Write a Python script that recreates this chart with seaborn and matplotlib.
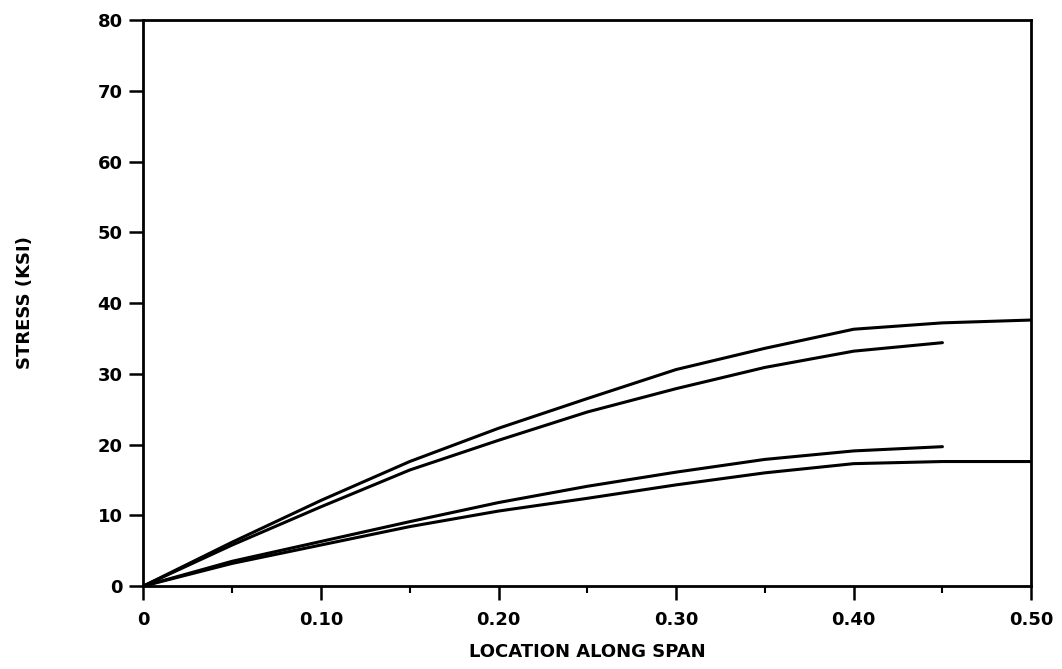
import matplotlib
matplotlib.use("Agg")
import matplotlib.pyplot as plt
import seaborn as sns
import pandas as pd
from matplotlib.ticker import MultipleLocator, FixedLocator

# Data
x_long = [0.0, 0.05, 0.10, 0.15, 0.20, 0.25, 0.30, 0.35, 0.40, 0.45, 0.50]
x_short = [0.0, 0.05, 0.10, 0.15, 0.20, 0.25, 0.30, 0.35, 0.40, 0.45]
stress_a = [0.0, 6.2, 12.1, 17.6, 22.3, 26.5, 30.6, 33.6, 36.3, 37.2, 37.6]
stress_b = [0.0, 5.8, 11.2, 16.4, 20.6, 24.6, 27.9, 30.9, 33.2, 34.4]
stress_c = [0.0, 3.5, 6.3, 9.1, 11.8, 14.1, 16.1, 17.9, 19.1, 19.7]
stress_d = [0.0, 3.2, 5.8, 8.4, 10.6, 12.4, 14.3, 16.0, 17.3, 17.6, 17.6]

x_ticks = [0, 0.10, 0.20, 0.30, 0.40, 0.50]
x_tick_labels = ["0", "0.10", "0.20", "0.30", "0.40", "0.50"]
y_ticks = [0, 10, 20, 30, 40, 50, 60, 70, 80]

frames = []
for name, xs, ys in [("A", x_long, stress_a), ("B", x_short, stress_b),
                     ("C", x_short, stress_c), ("D", x_long, stress_d)]:
    frames.append(pd.DataFrame({"loc": xs, "stress": ys, "series": name}))
df = pd.concat(frames, ignore_index=True)

sns.set_theme(style="ticks")
plt.rcParams["font.family"] = ["DejaVu Sans"]

fig = plt.figure(figsize=(10.62, 6.69), dpi=100)
ax = fig.add_axes([0.135, 0.124, 0.836, 0.846])

sns.lineplot(data=df, x="loc", y="stress", hue="series", units="series",
             estimator=None, palette=["black"] * 4, legend=False,
             linewidth=2.2, ax=ax, sort=False)

ax.set_xlim(0, 0.50)
ax.set_ylim(0, 80)
ax.xaxis.set_major_locator(FixedLocator(x_ticks))
ax.set_xticklabels(x_tick_labels)
ax.xaxis.set_minor_locator(MultipleLocator(0.05))
ax.yaxis.set_major_locator(FixedLocator(y_ticks))
ax.set_yticklabels([str(v) for v in y_ticks])

for s in ax.spines.values():
    s.set_visible(True)
    s.set_color("black")
    s.set_linewidth(2.0)

ax.tick_params(axis="both", which="major", direction="out", length=10,
               width=1.8, color="black", labelsize=13, labelcolor="black")
ax.tick_params(axis="x", which="minor", direction="out", length=5,
               width=1.5, color="black")
ax.tick_params(axis="x", which="major", pad=8)
ax.tick_params(axis="y", which="major", pad=5)
for lab in ax.get_xticklabels() + ax.get_yticklabels():
    lab.set_fontweight("bold")

ax.set_xlabel("LOCATION ALONG SPAN", fontsize=13, fontweight="bold",
              color="black", labelpad=10)
ax.set_ylabel("STRESS (KSI)", fontsize=13, fontweight="bold",
              color="black", labelpad=46)

fig.savefig("out.png", dpi=100, facecolor="white")
